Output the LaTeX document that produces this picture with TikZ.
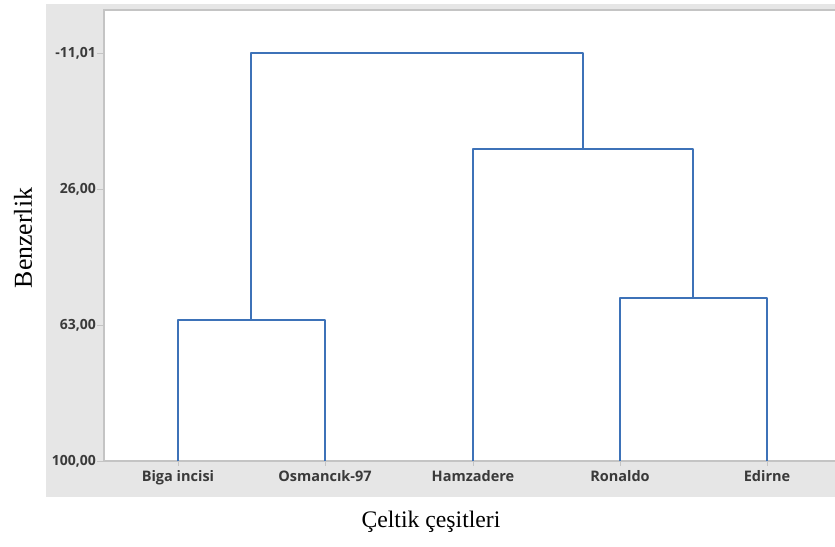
\documentclass[tikz,border=0pt]{standalone}
\usepackage{fontspec}
\setmainfont{Liberation Serif}
\newfontfamily\lblfont{Open Sans}
\begin{document}
\begin{tikzpicture}[x=1pt,y=-1pt,
  dend/.style={draw=dendblue,line width=2.3pt,line join=round},
  framel/.style={draw=framegray,line width=1.5pt},
  ticklbl/.style={font=\lblfont\bfseries\fontsize{14}{16}\selectfont,text=lblgray,anchor=east,inner sep=0pt},
  catlbl/.style={font=\lblfont\bfseries\fontsize{14.5}{16}\selectfont,text=lblgray,anchor=north,inner sep=0pt}]
\definecolor{dendblue}{HTML}{3D72B8}
\definecolor{framegray}{HTML}{C4C4C4}
\definecolor{bggray}{HTML}{E6E6E6}
\definecolor{lblgray}{HTML}{3A3A3A}
\useasboundingbox (0,0) rectangle (835,546);
% backgrounds
\fill[bggray] (46,4) rectangle (835,497);
\fill[white] (104,10) rectangle (835,461);
\draw[framel] (104,461) -- (104,10) -- (835,10);
\draw[framel] (104,461) -- (835,461);
% ticks
\foreach \yy/\t [count=\i] in {53/{-11,01},189/{26,00},325/{63,00},461/{100,00}}{
  \draw[framegray,line width=0.8pt] (97,\yy) -- (104,\yy);
  \node[ticklbl] (t\i) at (96,\yy) {\t};
}
% leaves
\coordinate (L1) at (178,461);
\coordinate (L2) at (325,461);
\coordinate (L3) at (473,461);
\coordinate (L4) at (620,461);
\coordinate (L5) at (767,461);
\foreach \n/\txt in {1/Biga incisi,2/Osmancık-97,3/Hamzadere,4/Ronaldo,5/Edirne}{
  \draw[framegray,line width=0.8pt] (L\n) -- ++(0,5);
  \node[catlbl] (c\n) at ([yshift=-9pt]L\n) {\txt};
}
% merge points
\coordinate (A) at (251,320);
\coordinate (B) at (693,298);
\coordinate (C) at (583,149);
\coordinate (D) at (251,53);
\draw[dend] (L1) |- (A) -| (L2);
\draw[dend] (L4) |- (B) -| (L5);
\draw[dend] (L3) |- (C) -| (B);
\draw[dend] (A) |- (D) -| (C);
% axis titles
\node[font=\fontsize{25.8}{30}\selectfont,rotate=90,inner sep=0pt] (ytitle) at (23,238) {Benzerlik};
\node[font=\fontsize{23.7}{28}\selectfont,inner sep=0pt] (xtitle) at (431,522) {Çeltik çeşitleri};
\end{tikzpicture}
\end{document}
